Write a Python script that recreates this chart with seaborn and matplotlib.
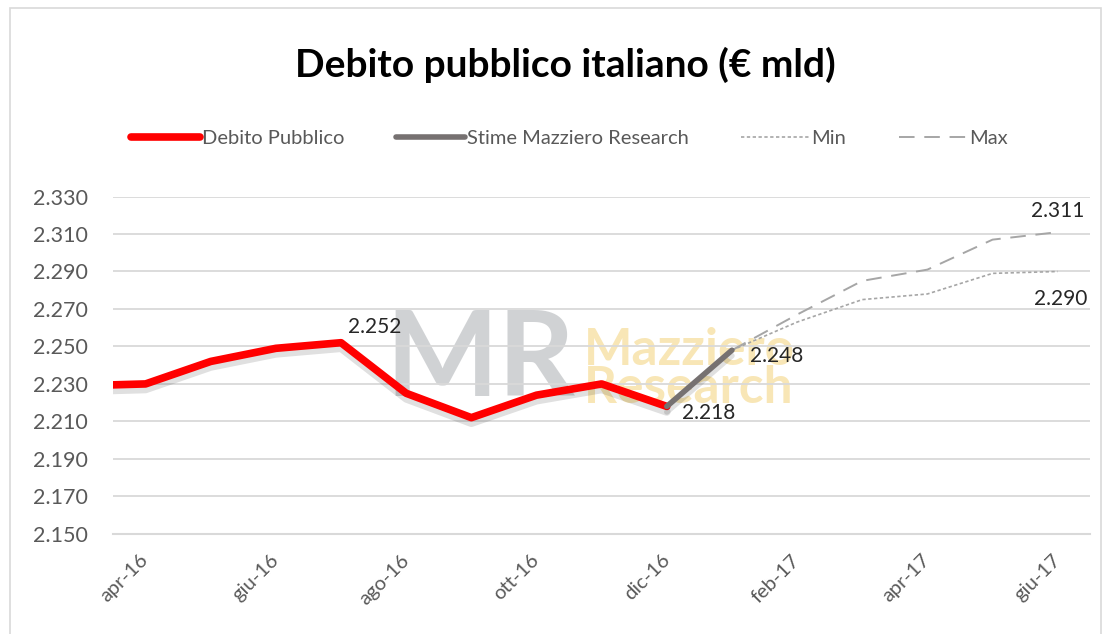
import matplotlib
matplotlib.use("Agg")
import matplotlib.pyplot as plt
import matplotlib.patheffects as pe
from matplotlib.patches import Rectangle
from matplotlib.ticker import FixedLocator, FuncFormatter
import pandas as pd
import seaborn as sns

# ---------------------------------------------------------------
# Dati (miliardi di euro)
# ---------------------------------------------------------------
mesi = ["mar-16", "apr-16", "mag-16", "giu-16", "lug-16", "ago-16", "set-16",
        "ott-16", "nov-16", "dic-16", "gen-17", "feb-17", "mar-17", "apr-17",
        "mag-17", "giu-17"]

debito_mesi = mesi[:10]
debito = [2229, 2230, 2242, 2249, 2252, 2225, 2212, 2224, 2230, 2218]

stime_mesi = ["dic-16", "gen-17"]
stime = [2218, 2248]

range_mesi = ["gen-17", "feb-17", "mar-17", "apr-17", "mag-17", "giu-17"]
stima_min = [2248, 2263, 2275, 2278, 2289, 2290]
stima_max = [2248, 2267, 2285, 2291, 2307, 2311]

tick_mesi = mesi[1::2]


def to_df(labels, values):
    return pd.DataFrame({"pos": [mesi.index(m) for m in labels], "valore": values})


def fmt_it(v, _=None):
    return f"{v:,.0f}".replace(",", ".")


df_deb = to_df(debito_mesi, debito)
df_stime = to_df(stime_mesi, stime)
df_min = to_df(range_mesi, stima_min)
df_max = to_df(range_mesi, stima_max)

# ---------------------------------------------------------------
# Grafico
# ---------------------------------------------------------------
sns.set_style("white")
plt.rcParams["font.family"] = ["Lato", "DejaVu Sans"]

fig = plt.figure(figsize=(11.08, 6.34), dpi=100)
ax = fig.add_axes([0.102, 0.158, 0.882, 0.532])

shadow = [pe.SimpleLineShadow(offset=(0, -4), shadow_color="black", alpha=0.12),
          pe.Normal()]

# watermark
ax.text(0.376, 0.51, "MR", transform=ax.transAxes, fontsize=86, color="#a3a7ab",
        fontweight="bold", alpha=0.5, ha="center", va="center", zorder=0)
ax.text(0.482, 0.545, "Mazziero", transform=ax.transAxes, fontsize=37,
        color="#f3d27a", fontweight="bold", alpha=0.55, ha="left", va="center",
        zorder=0)
ax.text(0.482, 0.43, "Research", transform=ax.transAxes, fontsize=37,
        color="#f3d27a", fontweight="bold", alpha=0.55, ha="left", va="center",
        zorder=0)

sns.lineplot(data=df_deb, x="pos", y="valore", ax=ax, color="#ff0000", lw=5.5,
             label="Debito Pubblico", path_effects=shadow, zorder=4)
sns.lineplot(data=df_stime, x="pos", y="valore", ax=ax, color="#767171", lw=4,
             label="Stime Mazziero Research", path_effects=shadow, zorder=4)
sns.lineplot(data=df_min, x="pos", y="valore", ax=ax, color="#a6a6a6", lw=1.2,
             linestyle=(0, (2, 1.5)), label="Min", zorder=3)
sns.lineplot(data=df_max, x="pos", y="valore", ax=ax, color="#a6a6a6", lw=1.4,
             linestyle=(0, (8, 5)), label="Max", zorder=3)

# etichette valori
lab = dict(textcoords="offset points", fontsize=15, color="#262626", zorder=5)
ax.annotate(fmt_it(debito[4]), xy=(mesi.index("lug-16"), debito[4]),
            xytext=(5, 11), ha="left", va="center", **lab)
ax.annotate(fmt_it(debito[-1]), xy=(mesi.index("dic-16"), debito[-1]),
            xytext=(11, -5), ha="left", va="center", **lab)
ax.annotate(fmt_it(stime[-1]), xy=(mesi.index("gen-17"), stime[-1]),
            xytext=(13, -4), ha="left", va="center", **lab)
ax.annotate(fmt_it(stima_max[-1]), xy=(mesi.index("giu-17"), stima_max[-1]),
            xytext=(0, 15), ha="center", va="center", **lab)
ax.annotate(fmt_it(stima_min[-1]), xy=(mesi.index("giu-17"), stima_min[-1]),
            xytext=(2, -20), ha="center", va="center", **lab)

# assi
ax.set_xlim(0.5, len(mesi) - 0.5)
ax.set_ylim(2150, 2330)
ax.set_yticks(range(2150, 2331, 20))
ax.yaxis.set_major_formatter(FuncFormatter(fmt_it))
ax.tick_params(axis="y", length=0, pad=18, labelsize=15.5, labelcolor="#595959")

ax.xaxis.set_major_locator(FixedLocator([mesi.index(m) for m in tick_mesi]))
ax.set_xticklabels(tick_mesi)
ax.xaxis.set_minor_locator(FixedLocator([i + 0.5 for i in range(len(mesi))]))
ax.tick_params(axis="x", which="major", length=0, pad=17, labelsize=14.5,
               labelcolor="#595959")
ax.tick_params(axis="x", which="minor", length=6, width=1.2, color="#d9d9d9",
               direction="out")
for t in ax.get_xticklabels():
    t.set_rotation(45)
    t.set_ha("right")
    t.set_va("center")
    t.set_rotation_mode("anchor")

ax.set_xlabel("")
ax.set_ylabel("")
ax.grid(axis="y", color="#d9d9d9", lw=1.3)
ax.grid(axis="x", visible=False)
for s in ["left", "right", "top"]:
    ax.spines[s].set_visible(False)
ax.spines["bottom"].set_color("#d9d9d9")
ax.spines["bottom"].set_linewidth(1.5)

# legenda
handles, labels = ax.get_legend_handles_labels()
ax.get_legend().remove()
leg = fig.legend(handles, labels, loc="center", bbox_to_anchor=(0.514, 0.782),
                 ncol=4, frameon=False, fontsize=14.5, handlelength=3.4,
                 handletextpad=0.1, columnspacing=2.6, labelcolor="#595959")
for h in leg.get_lines():
    h.set_path_effects([])

fig.suptitle("Debito pubblico italiano (€ mld)", x=0.51, y=0.897, va="center",
             fontsize=28, fontweight="bold", color="black")

fig.add_artist(Rectangle((0.009, -0.05), 0.985, 1.037, transform=fig.transFigure,
                         fill=False, edgecolor="#d9d9d9", lw=1.2))

fig.savefig("out.png", dpi=100)
